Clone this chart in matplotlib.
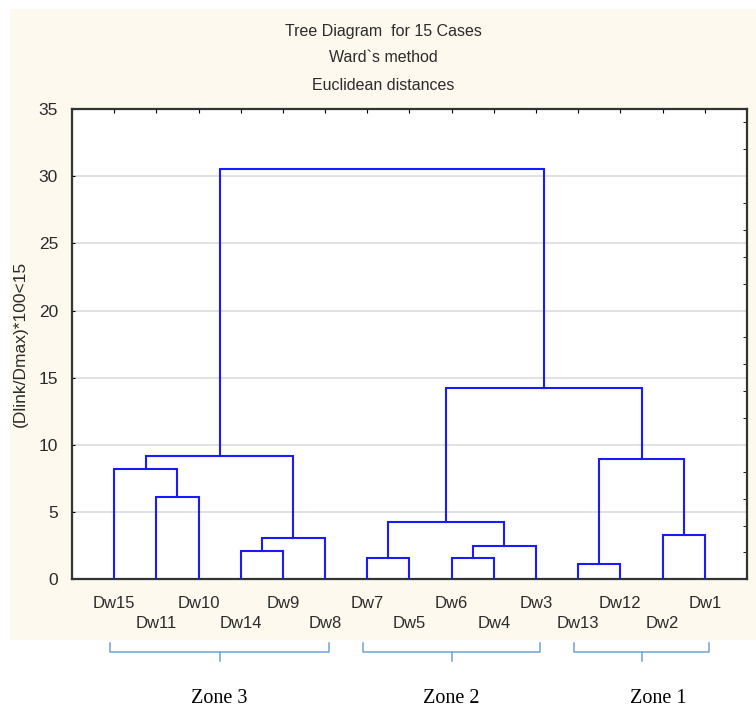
import matplotlib
matplotlib.use("Agg")
import matplotlib.pyplot as plt
from matplotlib.patches import Rectangle
from matplotlib.transforms import blended_transform_factory

# leaves in dendrogram order (left to right)
leaf_names = ["Dw15", "Dw11", "Dw10", "Dw14", "Dw9", "Dw8", "Dw7", "Dw5",
              "Dw6", "Dw4", "Dw3", "Dw13", "Dw12", "Dw2", "Dw1"]

# Ward linkage steps: cluster c15, c16, ... in the order they are formed
link_a = ["Dw11", "Dw15", "Dw14", "c17", "c16", "Dw7", "Dw6", "c21", "c20",
          "Dw13", "Dw2", "c24", "c23", "c19"]
link_b = ["Dw10", "c15", "Dw9", "Dw8", "c18", "Dw5", "Dw4", "Dw3", "c22",
          "Dw12", "Dw1", "c25", "c26", "c27"]
link_height = [6.1, 8.2, 2.1, 3.05, 9.2, 1.6, 1.6, 2.5, 4.3,
               1.15, 3.3, 8.95, 14.25, 30.55]

zone_names = ["Zone 3", "Zone 2", "Zone 1"]
zone_first = ["Dw15", "Dw7", "Dw13"]
zone_last = ["Dw8", "Dw3", "Dw1"]

y_ticks = [0, 5, 10, 15, 20, 25, 30, 35]

title_lines = ["Tree Diagram  for 15 Cases", "Ward`s method", "Euclidean distances"]
y_label = "(Dlink/Dmax)*100<15"

plt.rcParams["font.family"] = ["Liberation Sans", "DejaVu Sans"]

BLUE = "#1a1aff"
TXT = "#2b2b2b"
CREAM = "#fdf9ee"

fig = plt.figure(figsize=(7.56, 7.09), dpi=100)
fig.patch.set_facecolor("white")
fig.add_artist(Rectangle((0.0132, 0.0973), 0.9868, 0.89, transform=fig.transFigure,
                         facecolor=CREAM, edgecolor="none", zorder=-10))

ax = fig.add_axes([0.0952, 0.1829, 0.8929, 0.6634])
ax.set_facecolor("white")

# node positions / heights
pos = {name: i + 1 for i, name in enumerate(leaf_names)}
hgt = {name: 0.0 for name in leaf_names}
for k, (a, b, h) in enumerate(zip(link_a, link_b, link_height)):
    xa, xb = pos[a], pos[b]
    ax.plot([xa, xa, xb, xb], [hgt[a], h, h, hgt[b]], color=BLUE, lw=1.5,
            solid_joinstyle="miter", zorder=3)
    cid = f"c{15 + k}"
    pos[cid] = (xa + xb) / 2
    hgt[cid] = h

ax.set_xlim(0, len(leaf_names) + 1)
ax.set_ylim(0, 35)
ax.set_yticks(y_ticks)
ax.set_yticklabels([str(v) for v in y_ticks], fontsize=12.5, color=TXT)
for v in y_ticks[1:-1]:
    ax.axhline(v, color="#dcdcdc", lw=1.2, zorder=1)

# two-row leaf labels
ax.set_xticks(range(1, len(leaf_names) + 1))
ax.set_xticklabels([n if i % 2 == 0 else "\n" + n for i, n in enumerate(leaf_names)],
                   fontsize=12, color=TXT, linespacing=1.4)
ax.tick_params(axis="x", bottom=False, top=True, direction="in", length=3, pad=12)
ax.tick_params(axis="y", left=True, direction="in", length=2, pad=10)
ax.set_yticks(range(2, 35, 2), minor=True)
ax.tick_params(axis="y", which="minor", left=False, right=True, direction="in", length=3)

for s in ax.spines.values():
    s.set_color("#333333")
    s.set_linewidth(1.6)

ax.set_ylabel(y_label, fontsize=12.5, color=TXT, labelpad=8)

for line, y in zip(title_lines, [0.9549, 0.9182, 0.8801]):
    fig.text(0.5066, y, line, ha="center", va="center", fontsize=11.5, color=TXT)

# zone brackets below the chart
tr = blended_transform_factory(ax.transData, fig.transFigure)
label_dx = [0, 0, 0.4]
for name, first, last, dx in zip(zone_names, zone_first, zone_last, label_dx):
    x0, x1 = pos[first] - 0.1, pos[last] + 0.1
    xm = (x0 + x1) / 2
    ax.plot([x0, x0, x1, x1], [0.0931, 0.0804, 0.0804, 0.0931], transform=tr,
            color="#6fa0d8", lw=1.1, clip_on=False)
    ax.plot([xm, xm], [0.0804, 0.0677], transform=tr, color="#6fa0d8", lw=1.1, clip_on=False)
    ax.text(xm + dx, 0.0155, name, transform=tr, ha="center", va="center",
            fontsize=14.5, family="Liberation Serif", color="black")

fig.savefig("out.png", dpi=100)
